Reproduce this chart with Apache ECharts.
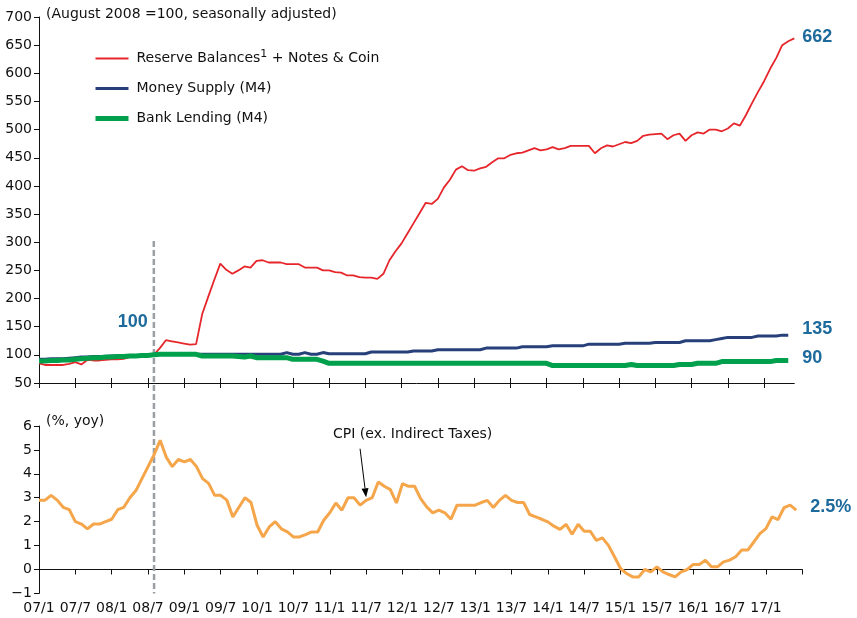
<!DOCTYPE html>
<html>
<head>
<meta charset="utf-8">
<script src="https://cdn.jsdelivr.net/npm/echarts@6/dist/echarts.min.js"></script>
<style>
  html, body { margin: 0; padding: 0; background: #fff; }
  #main { width: 857px; height: 618px; }
</style>
</head>
<body>
<div id="main"></div>
<script>
// monthly categories, 2007/1 .. 2017/6 (top) and .. 2017/7 (bottom axis)
const monthsTop = [];
const monthsBottom = [];
for (let i = 0; i < 127; i++) {
  const y = 2007 + Math.floor(i / 12);
  const m = (i % 12) + 1;
  const lab = String(y).slice(2) + "/" + m;
  if (i < 126) monthsTop.push(lab);
  monthsBottom.push(lab);
}

// August 2008 = 100
const reserveBalances = [
  85, 82, 82, 82, 82, 84, 87, 83, 91, 90,
  90, 91, 92, 92, 93, 96, 98, 99, 99, 100,
  112, 126, 124, 122, 120, 118, 119, 172, 203, 233,
  262, 251, 244, 250, 257, 255, 267, 268, 264, 264,
  264, 261, 261, 261, 255, 255, 255, 250, 250, 247,
  246, 241, 241, 238, 237, 237, 235, 244, 268, 284,
  298, 316, 334, 352, 370, 368, 377, 397, 411, 429,
  435, 428, 427, 431, 434, 442, 449, 449, 455, 458,
  459, 463, 467, 463, 465, 469, 465, 467, 471, 471,
  471, 471, 458, 467, 472, 470, 474, 478, 476, 480,
  489, 491, 492, 493, 483, 490, 493, 480, 490, 495,
  493, 500, 500, 497, 502, 511, 507, 526, 547, 567,
  586, 608, 627, 650, 657, 662,
];
const moneySupply = [
  92, 92, 93, 93, 93, 94, 95, 96, 96, 97,
  97, 97, 98, 98, 98, 98, 99, 99, 99, 100,
  101, 101, 101, 101, 101, 101, 101, 101, 101, 101,
  101, 101, 101, 101, 101, 101, 101, 101, 101, 101,
  101, 104, 101, 101, 104, 101, 101, 104, 102, 102,
  102, 102, 102, 102, 102, 105, 105, 105, 105, 105,
  105, 105, 107, 107, 107, 107, 109, 109, 109, 109,
  109, 109, 109, 109, 112, 112, 112, 112, 112, 112,
  114.5, 114.5, 114.5, 114.5, 114.5, 116, 116, 116, 116, 116,
  116, 119, 119, 119, 119, 119, 119, 120.5, 120.5, 120.5,
  120.5, 120.5, 122, 122, 122, 122, 122, 125, 125, 125,
  125, 125, 127, 129, 131, 131, 131, 131, 131, 133.5,
  133.5, 133.5, 133.5, 135, 135,
];
const bankLending = [
  89, 89, 90, 90, 91, 91, 92, 93, 94, 95,
  95, 96, 96, 97, 97, 98, 98, 99, 99, 100,
  101, 101, 101, 101, 101, 101, 101, 98, 98, 98,
  98, 98, 98, 97, 96, 98, 95, 95, 95, 95,
  95, 95, 92, 92, 92, 92, 92, 89, 85, 85,
  85, 85, 85, 85, 85, 85, 85, 85, 85, 85,
  85, 85, 85, 85, 85, 85, 85, 85, 85, 85,
  85, 85, 85, 85, 85, 85, 85, 85, 85, 85,
  85, 85, 85, 85, 85, 81, 81, 81, 81, 81,
  81, 81, 81, 81, 81, 81, 81, 81, 83, 81,
  81, 81, 81, 81, 81, 81, 83, 83, 83, 85,
  85, 85, 85, 88, 88, 88, 88, 88, 88, 88,
  88, 88, 90, 90, 90,
];
// % yoy
const cpiExTax = [
  2.9, 2.9, 3.1, 2.9, 2.6, 2.5, 2.0, 1.9, 1.7, 1.9,
  1.9, 2.0, 2.1, 2.5, 2.6, 3.0, 3.3, 3.8, 4.3, 4.8,
  5.4, 4.7, 4.3, 4.6, 4.5, 4.6, 4.3, 3.8, 3.6, 3.1,
  3.1, 2.9, 2.2, 2.6, 3.0, 2.8, 1.85, 1.36, 1.78, 2.0,
  1.7, 1.57, 1.36, 1.36, 1.46, 1.57, 1.57, 2.06, 2.37, 2.78,
  2.48, 3.0, 3.0, 2.69, 2.89, 3.0, 3.66, 3.48, 3.34, 2.78,
  3.59, 3.48, 3.48, 2.96, 2.62, 2.37, 2.48, 2.37, 2.1, 2.69,
  2.69, 2.69, 2.69, 2.8, 2.89, 2.59, 2.89, 3.1, 2.89, 2.8,
  2.8, 2.3, 2.2, 2.1, 1.99, 1.81, 1.68, 1.89, 1.47, 1.89,
  1.6, 1.6, 1.22, 1.32, 1.01, 0.53, 0.04, -0.17, -0.31, -0.31,
  0.0, -0.1, 0.11, -0.1, -0.21, -0.31, -0.1, 0.0, 0.21, 0.21,
  0.39, 0.11, 0.11, 0.32, 0.39, 0.53, 0.81, 0.81, 1.15, 1.5,
  1.71, 2.2, 2.09, 2.59, 2.69, 2.48,
];
const baseIndex = 19; // 2008/8

const FONT = "DejaVu Sans, sans-serif";
const BOLD_FONT = "Liberation Sans, Arial, sans-serif";
const LABEL_BLUE = "#1d6a9c";
const RED_NAME = "Reserve Balances + Notes & Coin";

const C_RED = "#e6262b";
const C_BLUE = "#27407a";
const C_GREEN = "#00a04c";
const C_CPI = "#f5a54a";

const myChart = echarts.init(document.getElementById("main"));

const tickEvery6 = (idx) => idx % 6 === 0;

const endLabelStyle = (distance, offset, fmt) => ({
  show: true,
  distance: distance,
  offset: offset,
  color: LABEL_BLUE,
  fontSize: 18,
  fontWeight: "bold",
  fontFamily: BOLD_FONT,
  formatter: fmt || ((p) => String(p.value)),
});

const option = {
  animation: false,
  backgroundColor: "#fff",
  textStyle: { fontFamily: FONT },
  grid: [
    { left: 39, top: 17, width: 755.3, height: 366 },
    { left: 39, top: 426, width: 763.3, height: 167.4 },
  ],
  legend: {
    orient: "vertical",
    left: 93,
    top: 49,
    padding: 0,
    itemWidth: 33,
    itemHeight: 14,
    itemGap: 16,
    itemStyle: { opacity: 0 },
    data: [
      { name: RED_NAME, lineStyle: { color: C_RED, width: 2 } },
      { name: "Money Supply (M4)", lineStyle: { color: C_BLUE, width: 3 } },
      { name: "Bank Lending (M4)", lineStyle: { color: C_GREEN, width: 5 } },
    ],
    formatter: (name) => {
      if (name === RED_NAME) {
        return "Reserve Balances{s|1} + Notes & Coin";
      }
      return name;
    },
    textStyle: {
      fontSize: 14,
      color: "#111",
      fontFamily: FONT,
      padding: [0, 0, 0, 3],
      rich: {
        s: { fontSize: 11, fontFamily: FONT, color: "#111", padding: [0, 0, 8, 0] },
      },
    },
  },
  xAxis: [
    {
      // top panel: line + outward ticks
      gridIndex: 0,
      type: "category",
      data: monthsTop,
      boundaryGap: false,
      position: "bottom",
      axisLine: { onZero: false, lineStyle: { color: "#111", width: 1 } },
      axisTick: { interval: tickEvery6, length: 5, lineStyle: { color: "#111" } },
      axisLabel: { show: false },
      splitLine: { show: false },
    },
    {
      // top panel: inward half of the crossing ticks
      gridIndex: 0,
      type: "category",
      data: monthsTop,
      boundaryGap: false,
      position: "bottom",
      axisLine: { show: false, onZero: false },
      axisTick: { inside: true, interval: tickEvery6, length: 5, lineStyle: { color: "#111" } },
      axisLabel: { show: false },
      splitLine: { show: false },
    },
    {
      // bottom panel: axis at zero
      gridIndex: 1,
      type: "category",
      data: monthsBottom,
      boundaryGap: false,
      axisLine: { onZero: true, lineStyle: { color: "#111", width: 1 } },
      axisTick: { interval: tickEvery6, length: 5, lineStyle: { color: "#111" } },
      axisLabel: { show: false },
      splitLine: { show: false },
    },
    {
      // bottom panel: labels under the grid
      gridIndex: 1,
      type: "category",
      data: monthsBottom,
      boundaryGap: false,
      position: "bottom",
      axisLine: { show: false, onZero: false },
      axisTick: { show: false },
      axisLabel: {
        interval: (idx) => idx % 6 === 0 && idx < 126,
        margin: 8,
        fontSize: 14,
        color: "#111",
        fontFamily: FONT,
      },
      splitLine: { show: false },
    },
  ],
  yAxis: [
    {
      gridIndex: 0,
      type: "value",
      min: 50,
      max: 700,
      interval: 50,
      axisLine: { show: true, lineStyle: { color: "#111", width: 1 } },
      axisTick: { show: true, length: 5, lineStyle: { color: "#111" } },
      axisLabel: { margin: 7, fontSize: 14, color: "#111", fontFamily: FONT },
      splitLine: { show: false },
    },
    {
      gridIndex: 1,
      type: "value",
      min: -1,
      max: 6,
      interval: 1,
      axisLine: { show: true, lineStyle: { color: "#111", width: 1 } },
      axisTick: { show: true, length: 5, lineStyle: { color: "#111" } },
      axisLabel: {
        margin: 7,
        fontSize: 14,
        color: "#111",
        fontFamily: FONT,
        formatter: (v) => (v < 0 ? "\u2212" + Math.abs(v) : String(v)),
      },
      splitLine: { show: false },
    },
  ],
  series: [
    {
      name: RED_NAME,
      type: "line",
      xAxisIndex: 0,
      yAxisIndex: 0,
      data: reserveBalances,
      symbol: "none",
      lineStyle: { color: C_RED, width: 1.8 },
      itemStyle: { color: C_RED },
      endLabel: endLabelStyle(8, [0, -1]),
      markPoint: {
        symbol: "circle",
        symbolSize: 0,
        silent: true,
        data: [{ coord: [baseIndex, reserveBalances[baseIndex]], value: reserveBalances[baseIndex] }],
        label: {
          show: true,
          formatter: "{c}",
          offset: [-21, -33],
          color: LABEL_BLUE,
          fontSize: 18,
          fontWeight: "bold",
          fontFamily: BOLD_FONT,
        },
      },
    },
    {
      name: "Money Supply (M4)",
      type: "line",
      xAxisIndex: 0,
      yAxisIndex: 0,
      data: moneySupply,
      symbol: "none",
      lineStyle: { color: C_BLUE, width: 3 },
      itemStyle: { color: C_BLUE },
      endLabel: endLabelStyle(14, [0, -6]),
    },
    {
      name: "Bank Lending (M4)",
      type: "line",
      xAxisIndex: 0,
      yAxisIndex: 0,
      data: bankLending,
      symbol: "none",
      lineStyle: { color: C_GREEN, width: 5 },
      itemStyle: { color: C_GREEN },
      endLabel: endLabelStyle(14, [0, -2]),
    },
    {
      name: "CPI (ex. Indirect Taxes)",
      type: "line",
      xAxisIndex: 2,
      yAxisIndex: 1,
      data: cpiExTax,
      symbol: "none",
      lineStyle: { color: C_CPI, width: 3 },
      itemStyle: { color: C_CPI },
      endLabel: endLabelStyle(14, [0, -3], (p) => p.value.toFixed(1) + "%"),
    },
  ],
};

myChart.setOption(option);

// dashed marker at Aug 2008 running through both panels
const pTop = myChart.convertToPixel({ gridIndex: 0 }, [baseIndex, 302]);
const pBot = myChart.convertToPixel({ gridIndex: 1 }, [baseIndex, -1]);
// arrow pointing at the CPI line
const aFrom = myChart.convertToPixel({ gridIndex: 1 }, [53, 5.05]);
const aTo = myChart.convertToPixel({ gridIndex: 1 }, [54, 3.02]);
const ang = Math.atan2(aTo[1] - aFrom[1], aTo[0] - aFrom[0]);
const headLen = 9;
const headW = 3.5;
const hx = aTo[0] - headLen * Math.cos(ang);
const hy = aTo[1] - headLen * Math.sin(ang);

myChart.setOption({
  graphic: [
    {
      type: "text",
      left: 46,
      top: 7,
      style: { text: "(August 2008 =100, seasonally adjusted)", font: "14px " + FONT, fill: "#111" },
    },
    {
      type: "text",
      left: 46,
      top: 414,
      style: { text: "(%, yoy)", font: "14px " + FONT, fill: "#111" },
    },
    {
      type: "text",
      left: 333,
      top: 427,
      style: { text: "CPI (ex. Indirect Taxes)", font: "14px " + FONT, fill: "#111" },
    },
    {
      type: "line",
      silent: true,
      z: 1,
      shape: { x1: pTop[0], y1: pTop[1], x2: pBot[0], y2: pBot[1] },
      style: { stroke: "#9b9ea3", lineWidth: 2.5, lineDash: [6, 3] },
    },
    {
      type: "line",
      silent: true,
      z: 10,
      shape: { x1: aFrom[0], y1: aFrom[1], x2: hx, y2: hy },
      style: { stroke: "#000", lineWidth: 1 },
    },
    {
      type: "polygon",
      silent: true,
      z: 10,
      shape: {
        points: [
          [aTo[0], aTo[1]],
          [hx + headW * Math.sin(ang), hy - headW * Math.cos(ang)],
          [hx - headW * Math.sin(ang), hy + headW * Math.cos(ang)],
        ],
      },
      style: { fill: "#000" },
    },
  ],
});
</script>
</body>
</html>
